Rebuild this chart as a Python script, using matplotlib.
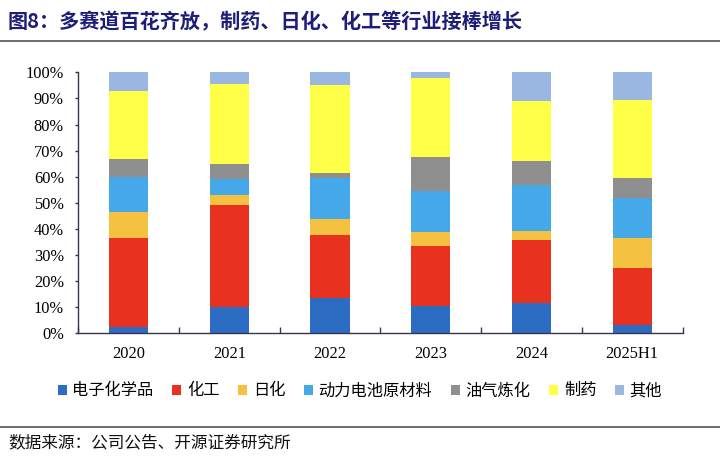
import matplotlib
matplotlib.use("Agg")
import matplotlib.pyplot as plt
from matplotlib.patches import Patch
from matplotlib.lines import Line2D
import numpy as np

plt.rcParams["font.family"] = ["Noto Sans CJK SC", "DejaVu Sans"]

years = ["2020", "2021", "2022", "2023", "2024", "2025H1"]
segments = ["电子化学品", "化工", "日化", "动力电池原材料", "油气炼化", "制药", "其他"]

# share of revenue by segment (%)
elec_chem = [2.3, 10.2, 13.4, 10.3, 11.5, 3.2]
chem_ind = [34.4, 39.1, 24.3, 23.3, 24.4, 21.8]
daily_chem = [9.9, 3.7, 6.1, 5.2, 3.3, 11.5]
battery = [13.3, 6.1, 15.6, 15.6, 17.8, 15.2]
oil_gas = [6.9, 5.9, 2.2, 13.0, 8.9, 7.8]
pharma = [25.9, 30.7, 33.4, 30.6, 23.0, 29.8]
others = [7.3, 4.3, 5.0, 2.0, 11.1, 10.7]

series = [elec_chem, chem_ind, daily_chem, battery, oil_gas, pharma, others]
colors = ["#2C6CC2", "#E8311F", "#F5C140", "#45A8E8", "#8F8F8F", "#FFFF47", "#9AB7E1"]

NAVY = "#1E1E78"
AXIS = "#3A3548"

fig = plt.figure(figsize=(7.2, 4.61), dpi=100)
ax = fig.add_axes([0.1088, 0.277, 0.8392, 0.566])

x = np.arange(len(years))
bottom = np.zeros(len(years))
for vals, col in zip(series, colors):
    ax.bar(x, vals, width=0.39, bottom=bottom, color=col, edgecolor="none")
    bottom += np.array(vals)

ax.set_xlim(-0.5, len(years) - 0.5)
ax.set_ylim(0, 100)
ax.set_yticks(np.arange(0, 101, 10))
ax.set_yticklabels([f"{v}%" for v in range(0, 101, 10)],
                   family="Liberation Serif", fontsize=11.8)
ax.set_xticks(x)
ax.set_xticklabels(years, family="Liberation Serif", fontsize=11.8)
ax.set_xticks(np.arange(-0.5, len(years)), minor=True)
ax.tick_params(axis="x", which="major", length=0, pad=9)
ax.tick_params(axis="x", which="minor", direction="in", length=4, color=AXIS, width=1)
ax.tick_params(axis="y", direction="out", length=2.5, width=1, color=AXIS, pad=8)

for s in ["top", "right"]:
    ax.spines[s].set_visible(False)
for s in ["left", "bottom"]:
    ax.spines[s].set_color(AXIS)
    ax.spines[s].set_linewidth(1)

handles = [Patch(facecolor=c, edgecolor="none") for c in colors]
fig.legend(handles, segments, loc="center", bbox_to_anchor=(0.5, 0.152), ncol=7,
           frameon=False, fontsize=11.7, handlelength=0.55, handleheight=0.55,
           handletextpad=0.35, columnspacing=1.15)

fig.text(0.011, 0.952, "图8：多赛道百花齐放，制药、日化、化工等行业接棒增长",
         color=NAVY, fontsize=14.5, fontweight="bold", va="center", ha="left")
fig.add_artist(Line2D([0, 1], [1 - 41 / 461] * 2, color="#555555", lw=1.2,
                      transform=fig.transFigure))
fig.add_artist(Line2D([0, 1], [1 - 427 / 461] * 2, color="#555555", lw=1.2,
                      transform=fig.transFigure))
fig.text(0.011, 1 - 443 / 461, "数据来源：公司公告、开源证券研究所",
         color="#111111", fontsize=12, va="center", ha="left")

fig.savefig("out.png", dpi=100, facecolor="white")
